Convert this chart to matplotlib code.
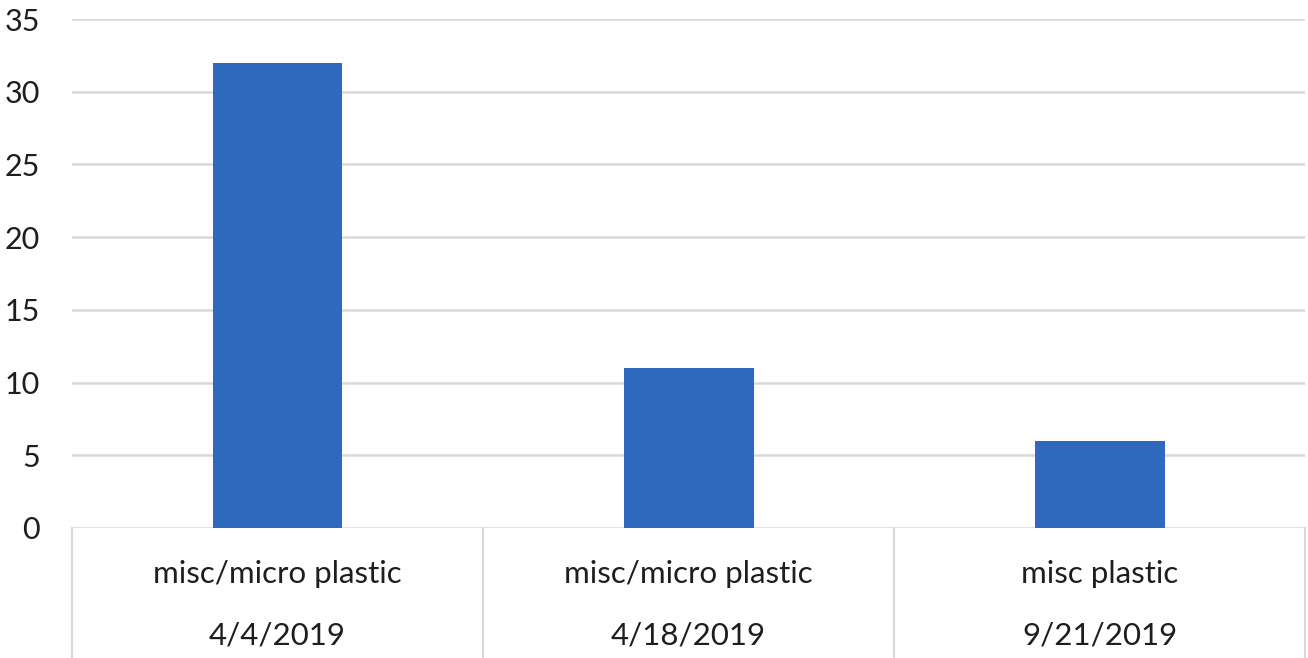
import matplotlib
matplotlib.use("Agg")
import matplotlib.pyplot as plt
import numpy as np

# chart data
materials = ['misc/micro plastic', 'misc/micro plastic', 'misc plastic']
dates = ['4/4/2019', '4/18/2019', '9/21/2019']
counts = [32, 11, 6]
yticks = [0, 5, 10, 15, 20, 25, 30, 35]

plt.rcParams['font.family'] = ['Lato', 'DejaVu Sans']

fig = plt.figure(figsize=(13.08, 6.58), dpi=100)
ax = fig.add_axes([0.055, 0.1976, 0.943, 0.7735])

x = np.arange(len(counts))
ax.bar(x, counts, width=0.316, color='#2F69BE', zorder=3)

ax.set_xlim(-0.5, len(counts) - 0.5)
ax.set_ylim(0, 35)
ax.set_yticks(yticks)
ax.set_yticklabels([str(v) for v in yticks], fontsize=22, color='#1e1e1e')
ax.tick_params(axis='y', length=0, pad=23)
ax.set_xticks([])
ax.grid(axis='y', color='#d9d9d9', linewidth=1.8, zorder=0)
for s in ax.spines.values():
	s.set_visible(False)

# two-level category axis with boxes
trans = ax.get_xaxis_transform()
for b in np.arange(len(counts) + 1) - 0.5:
	ax.plot([b, b], [0, -0.27], transform=trans, color='#d9d9d9', linewidth=1.5, clip_on=False)
for i in x:
	ax.text(i, -0.09, materials[i], transform=trans, ha='center', va='center', fontsize=22.5, color='#1e1e1e')
	ax.text(i, -0.212, dates[i], transform=trans, ha='center', va='center', fontsize=22.5, color='#1e1e1e')

fig.savefig('out.png', dpi=100)
